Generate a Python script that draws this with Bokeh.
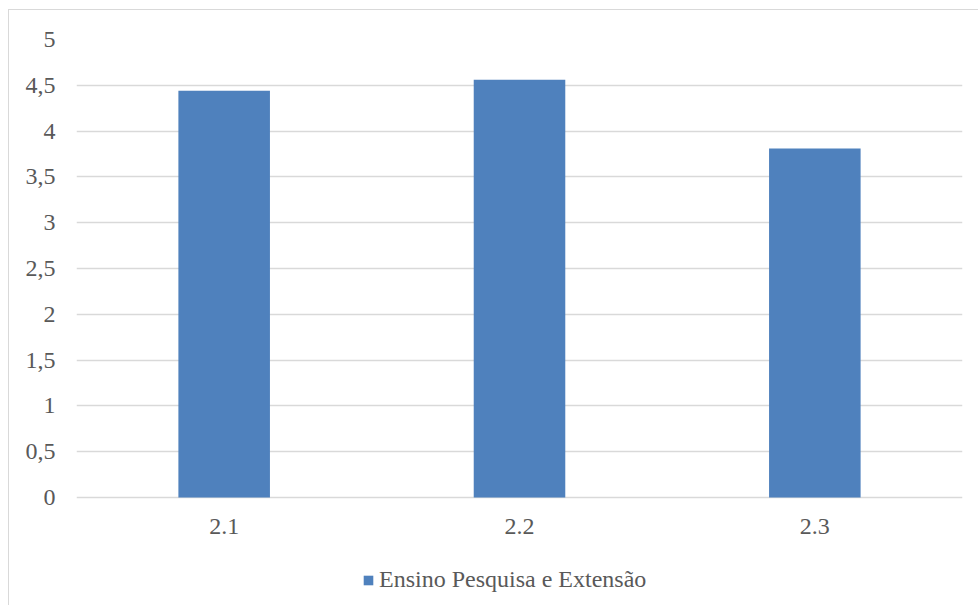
from bokeh.plotting import figure
from bokeh.models import FactorRange, Range1d, FixedTicker, Legend, LegendItem, ColumnDataSource
from bokeh.embed import file_html
from bokeh.resources import INLINE

categories = ["2.1", "2.2", "2.3"]
values = [4.44, 4.56, 3.81]
series_name = "Ensino Pesquisa e Extensão"
y_ticks = [0, 0.5, 1, 1.5, 2, 2.5, 3, 3.5, 4, 4.5, 5]
y_tick_labels = ["0", "0,5", "1", "1,5", "2", "2,5", "3", "3,5", "4", "4,5", "5"]

FONT = "Liberation Serif"
TXT = "#595959"
GRID = "#d9d9d9"
BAR = "#4f81bd"

source = ColumnDataSource(dict(cat=categories, val=values))

# frame: top at y=39 (value 5), value 0 at y=497; extended below to host the legend
p = figure(
    x_range=FactorRange(*categories, range_padding=0),
    y_range=Range1d(-1.135, 5),
    width=970, height=596,
    output_backend="svg", toolbar_location=None,
    min_border_left=67, min_border_right=17, min_border_top=29, min_border_bottom=5,
)
p.styles = {"border-left": "1px solid #d9d9d9", "border-top": "1px solid #d9d9d9",
            "margin-top": "9px", "margin-left": "8px"}
p.outline_line_color = None

r = p.vbar(x="cat", top="val", width=0.31, source=source, fill_color=BAR, line_color=None)

p.xgrid.grid_line_color = None
p.ygrid.grid_line_color = GRID
p.ygrid.grid_line_width = 1.5
p.ygrid.ticker = FixedTicker(ticks=y_ticks)

p.yaxis.ticker = FixedTicker(ticks=y_ticks)
p.yaxis.major_label_overrides = {t: l for t, l in zip(y_ticks, y_tick_labels)}
p.yaxis.axis_line_color = None
p.yaxis.major_tick_line_color = None
p.yaxis.minor_tick_line_color = None
p.yaxis.major_tick_out = 0
p.yaxis.major_tick_in = 0
p.yaxis.major_label_standoff = 21
p.yaxis.major_label_text_font = FONT
p.yaxis.major_label_text_font_size = "24px"
p.yaxis.major_label_text_color = TXT

p.xaxis.fixed_location = 0
p.xaxis.axis_line_color = None
p.xaxis.major_tick_line_color = None
p.xaxis.minor_tick_line_color = None
p.xaxis.major_label_standoff = 15
p.xaxis.major_label_text_font = FONT
p.xaxis.major_label_text_font_size = "24px"
p.xaxis.major_label_text_color = TXT

legend = Legend(
    items=[LegendItem(label=series_name, renderers=[r])],
    location=(286, 8), orientation="horizontal",
    border_line_color=None, background_fill_alpha=0,
    glyph_width=12, glyph_height=12, label_standoff=5,
    label_text_font=FONT, label_text_font_size="24px", label_text_color=TXT,
    padding=0, margin=0,
)
p.add_layout(legend, "center")

open("out.html", "w").write(file_html(p, INLINE))
